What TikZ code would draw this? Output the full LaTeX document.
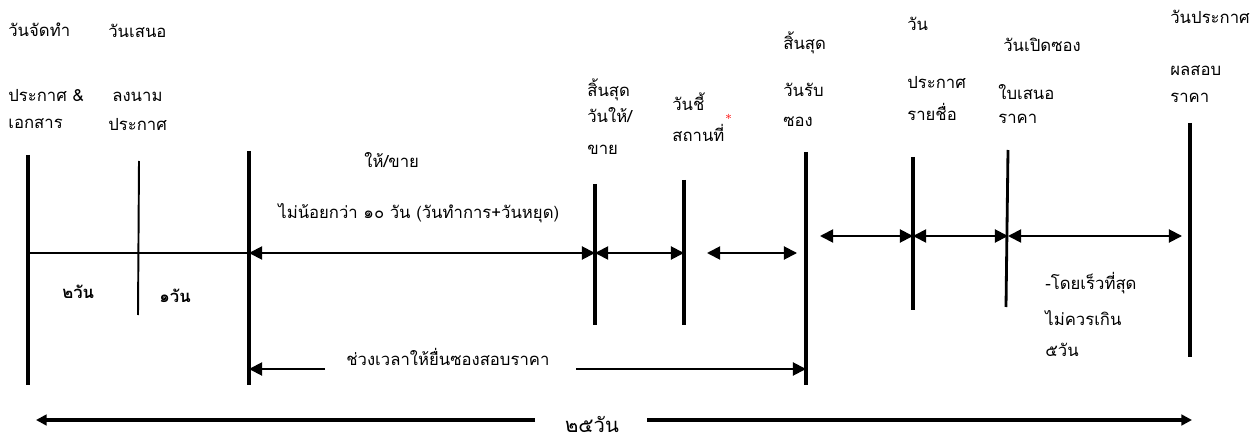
\documentclass[tikz,border=0pt]{standalone}
\usepackage{fontspec}
\newfontfamily\thaifont[Script=Thai]{Loma}
\usetikzlibrary{arrows.meta}
\begin{document}
\begin{tikzpicture}[x=0.02cm,y=-0.02cm,
	twoway/.style={{Triangle[length=7.5pt,width=7.5pt]}-{Triangle[length=7.5pt,width=7.5pt]},line width=1.1pt},
	oneway/.style={-{Triangle[length=7.5pt,width=7.5pt]},line width=1.1pt},
	bigway/.style={-{Triangle[length=6pt,width=6pt]},line width=2.2pt},
	dayline/.style={line width=2.2pt},
	lbl/.style={anchor=west,inner sep=0pt,font=\thaifont\fontsize{9.5}{12}\selectfont}]
	\useasboundingbox (0,0) rectangle (1254,442);
	% day lines
	\foreach \n/\xt/\yt/\xb/\yb/\lw in {jt/28/155/28/385/2.2pt,sn/139/161/138/315/1.1pt,kh/249/151/249/385/2.2pt,
		sk/595/184/595/325/2.2pt,cs/684/180/684/325/2.2pt,rs/806/152/806/385/2.2pt,
		pr/913/157/913/310/2.2pt,pd/1008/150/1006/307/1.6pt,pp/1190/123/1190/357/2.6pt}
	{\coordinate (\n-t) at (\xt,\yt); \coordinate (\n-b) at (\xb,\yb);
	 \draw[line width=\lw] (\n-t)--(\n-b);}
	\foreach \n/\x/\y in {jt/28/253,kh/249/253,sk/595/253,cs/684/253,sp/707/253,rp/797/253,
		ra/820/236,pr/913/236,pd/1008/236,pe/1182/236,
		kl/249/369,ke/325/369,rl/576/369,rr/806/369,
		ta/36/420,tb/535/420,tc/647/420,td/1192/420}
	\coordinate (\n-m) at (\x,\y);
	% time spans
	\draw[line width=1.1pt] (jt-m)--(kh-m);
	\draw[twoway] (kh-m)--(sk-m);
	\draw[twoway] (sk-m)--(cs-m);
	\draw[twoway] (sp-m)--(rp-m);
	\draw[twoway] (ra-m)--(pr-m);
	\draw[twoway] (pr-m)--(pd-m);
	\draw[twoway] (pd-m)--(pe-m);
	\draw[oneway] (ke-m)--(kl-m);
	\draw[oneway] (rl-m)--(rr-m);
	\draw[bigway] (tb-m)--(ta-m);
	\draw[bigway] (tc-m)--(td-m);
	% labels
	\foreach \nm/\x/\y/\txt in {l1/8/30/วันจัดทำ,l2/8/96/{ประกาศ \&},l3/8/124/เอกสาร,
		l4/108/31/วันเสนอ,l5/112/97/ลงนาม,l6/108/125/ประกาศ,
		l7/364/160/{ให้/ขาย},l8/278/213/{ไม่น้อยกว่า ๑๐ วัน (วันทำการ+วันหยุด)},
		l9/587/90/สิ้นสุด,l10/587/115/{วันให้/},l11/587/150/ขาย,
		l12/672/102/วันชี้,l13/672/133/สถานที่,
		l14/783/43/สิ้นสุด,l15/783/90/วันรับ,l16/783/122/ซอง,
		l17/907/24/วัน,l18/907/83/ประกาศ,l19/907/112/รายชื่อ,
		l20/1003/45/วันเปิดซอง,l21/998/92/ใบเสนอ,l22/998/119/ราคา,
		l23/1170/17/วันประกาศ,l24/1170/71/ผลสอบ,l25/1170/98/ราคา,
		l26/346/357/ช่วงเวลาให้ยื่นซองสอบราคา,
		l27/1045/283/-โดยเร็วที่สุด,l28/1045/318/ไม่ควรเกิน,l29/1045/350/๕วัน}
	\node[lbl] (\nm) at (\x,\y) {\txt};
	\node[lbl,font=\thaifont\bfseries\fontsize{9.5}{12}\selectfont] (d2) at (62,292) {๒วัน};
	\node[lbl,font=\thaifont\bfseries\fontsize{9.5}{12}\selectfont] (d1) at (159,296) {๑วัน};
	\node[anchor=south west,inner sep=0pt,text=red,font=\scriptsize] (mk) at (l13.north east) {*};
	\node[font=\thaifont\fontsize{11.5}{14}\selectfont,inner sep=0pt] (tot) at (592,424) {๒๕วัน};
\end{tikzpicture}
\end{document}
